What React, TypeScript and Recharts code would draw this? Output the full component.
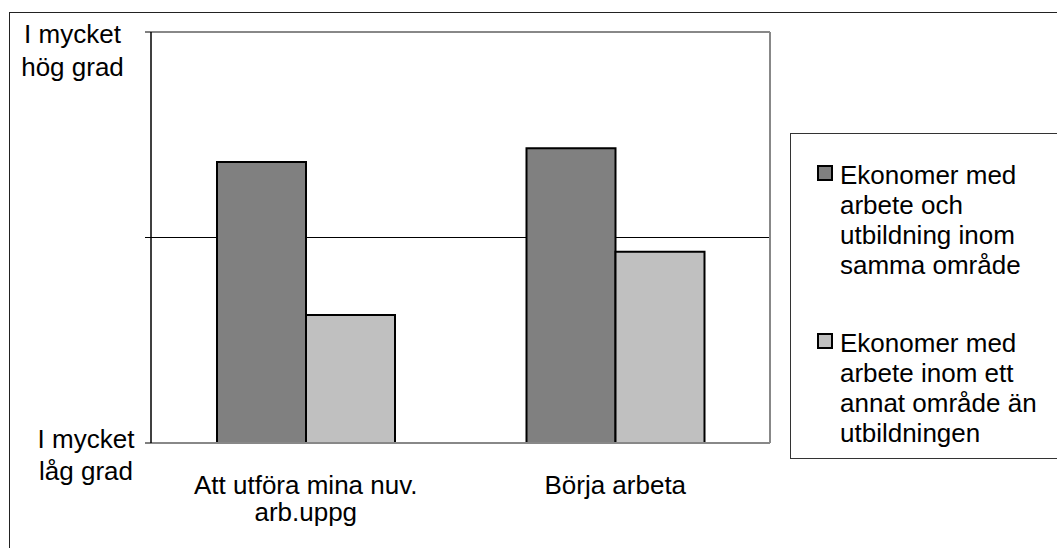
import React from "react";
import {
  BarChart,
  Bar,
  XAxis,
  YAxis,
  CartesianGrid,
  ReferenceLine,
  Legend,
} from "recharts";

const categories = ["Att utföra mina nuv.\narb.uppg", "Börja arbeta"];
const seriesNames = [
  "Ekonomer med\narbete och\nutbildning inom\nsamma område",
  "Ekonomer med\narbete inom ett\nannat område än\nutbildningen",
];
const sameField = [1.367, 1.434];
const otherField = [0.623, 0.931];
const yTicks = [0, 1, 2];
const yTickLabels = ["I mycket\nlåg grad", "", "I mycket\nhög grad"];
const seriesColors = ["#808080", "#c0c0c0"];

const data = categories.map((c, i) => ({
  cat: c,
  same: sameField[i],
  other: otherField[i],
}));

const FONT = "'Liberation Sans', Arial, Helvetica, sans-serif";

const XTick = (props: any) => {
  const { x, y, payload } = props;
  const lines = String(payload.value).split("\n");
  return (
    <text x={x} y={y + 51} textAnchor="middle" fontFamily={FONT} fontSize={26} fill="#000">
      {lines.map((l, i) => (
        <tspan key={i} x={x} dy={i === 0 ? 0 : 27}>
          {l}
        </tspan>
      ))}
    </text>
  );
};

const YTick = (props: any) => {
  const { x, y, payload } = props;
  const idx = yTicks.indexOf(payload.value);
  const label = yTickLabels[idx] || "";
  if (!label) return null;
  const lines = label.split("\n");
  const isTop = idx === yTicks.length - 1;
  const cx = isTop ? x - 70.5 : x - 57;
  const firstDy = isTop ? 11 : 4.5;
  const gap = 32.5;
  return (
    <text x={cx} y={y + firstDy} textAnchor="middle" fontFamily={FONT} fontSize={26} fill="#000">
      {lines.map((l, i) => (
        <tspan key={i} x={cx} dy={i === 0 ? 0 : gap}>
          {l}
        </tspan>
      ))}
    </text>
  );
};

const LegendBox = (props: any) => {
  const payload = [...(props.payload || [])].sort(
    (a: any, b: any) => seriesNames.indexOf(a.value) - seriesNames.indexOf(b.value)
  );
  return (
    <div
      style={{
        boxSizing: "border-box",
        width: 300,
        height: 326,
        border: "1px solid #333",
        background: "#fff",
        paddingTop: 26,
        paddingLeft: 26,
        fontFamily: FONT,
        fontSize: 26,
        lineHeight: "30px",
        color: "#000",
      }}
    >
      {payload.map((p: any, i: number) => (
        <div
          key={i}
          style={{ position: "relative", paddingLeft: 23, marginBottom: i === 0 ? 47.7 : 0 }}
        >
          <span
            style={{
              position: "absolute",
              left: 0,
              top: 5,
              width: 16,
              height: 16,
              boxSizing: "border-box",
              border: "2px solid #000",
              background: p.color,
            }}
          />
          <div style={{ whiteSpace: "pre-line" }}>{p.value}</div>
        </div>
      ))}
    </div>
  );
};

export default function App() {
  return (
    <div
      style={{
        position: "absolute",
        left: 0,
        top: 0,
        width: 1057,
        height: 548,
        overflow: "hidden",
        background: "#fff",
      }}
    >
      <div
        style={{
          position: "absolute",
          left: 9,
          top: 12,
          width: 1200,
          height: 700,
          border: "1px solid #222",
        }}
      />
      <div style={{ position: "absolute", left: 0, top: 0 }}>
        <BarChart
          width={1057}
          height={548}
          data={data}
          margin={{ top: 32, right: 286, bottom: 0, left: 11 }}
          barGap={0}
        >
          <CartesianGrid
            vertical={false}
            horizontalValues={[1]}
            stroke="#000"
            strokeWidth={1}
          />
          <XAxis
            dataKey="cat"
            height={105}
            tickLine={false}
            tickSize={0}
            tickMargin={0}
            axisLine={{ stroke: "#888", strokeWidth: 2 }}
            tick={<XTick />}
            interval={0}
          />
          <YAxis
            width={140}
            domain={[0, 2]}
            ticks={yTicks}
            interval={0}
            tickSize={6}
            tickMargin={2}
            axisLine={{ stroke: "#000", strokeWidth: 1.5 }}
            tickLine={{ stroke: "#000" }}
            tick={<YTick />}
          />
          <YAxis
            yAxisId="right"
            orientation="right"
            width={1}
            domain={[0, 2]}
            ticks={yTicks}
            tick={false}
            tickLine={false}
            axisLine={{ stroke: "#888", strokeWidth: 2 }}
          />
          <ReferenceLine y={2} stroke="#888" strokeWidth={2} />
          <Bar
            dataKey="same"
            name={seriesNames[0]}
            fill={seriesColors[0]}
            stroke="#000"
            strokeWidth={2}
            barSize={89}
            isAnimationActive={false}
          />
          <Bar
            dataKey="other"
            name={seriesNames[1]}
            fill={seriesColors[1]}
            stroke="#000"
            strokeWidth={2}
            barSize={89}
            isAnimationActive={false}
          />
          <Legend
            layout="vertical"
            align="center"
            verticalAlign="middle"
            wrapperStyle={{ left: 790, top: 133, width: 300, height: 326 }}
            content={<LegendBox />}
          />
        </BarChart>
      </div>
    </div>
  );
}
